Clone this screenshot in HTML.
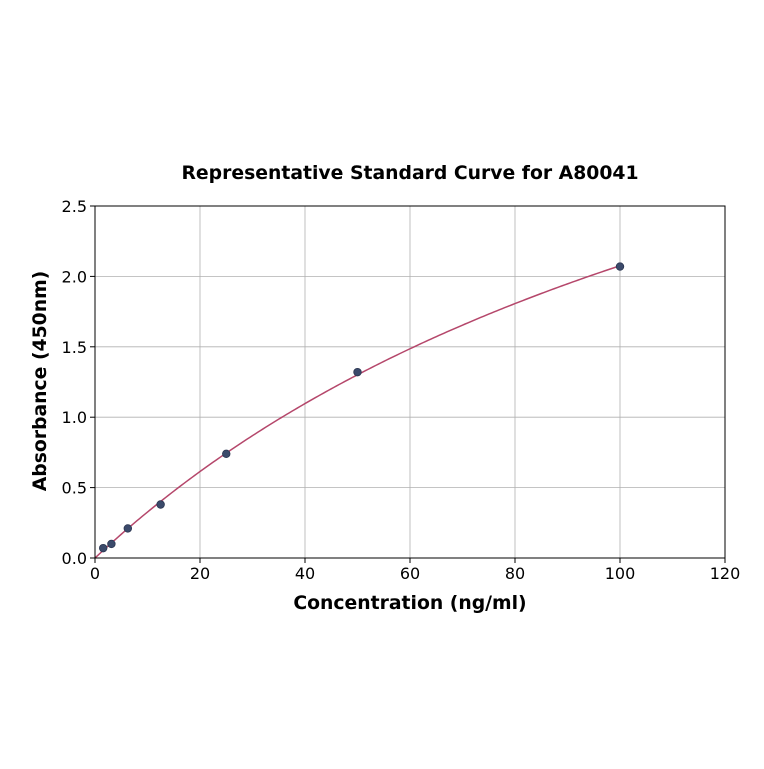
<!DOCTYPE html>
<html><head><meta charset="utf-8"><style>
body{margin:0;background:#fff;}
svg text{font-family:"DejaVu Sans","Liberation Sans",sans-serif;fill:#000;}
</style></head><body>
<svg id="chart" width="764" height="764">
<g id="grid"></g>
<path id="curve" fill="none" stroke="#b5476b" stroke-width="1.5"/>
<g id="pts"></g>
<rect x="95" y="206" width="630" height="352" fill="none" stroke="#000" stroke-width="1"/>
<g id="ticks"></g>
<text x="410" y="179" text-anchor="middle" font-size="18.8" font-weight="bold">Representative Standard Curve for A80041</text>
<text x="410" y="609" text-anchor="middle" font-size="18.8" font-weight="bold">Concentration (ng/ml)</text>
<text transform="translate(46,381) rotate(-90)" text-anchor="middle" font-size="18.8" font-weight="bold">Absorbance (450nm)</text>
</svg>
<script>
const conc=[1.5625,3.125,6.25,12.5,25,50,100];
const absorb=[0.07,0.10,0.21,0.38,0.74,1.32,2.07];
const xTicks=[0,20,40,60,80,100,120];
const yTicks=[0.0,0.5,1.0,1.5,2.0,2.5];
const X0=95,X1=725,Y0=558,Y1=206;
const sx=v=>X0+(v-0)/(120-0)*(X1-X0);
const sy=v=>Y0-(v-0)/(2.5-0)*(Y0-Y1);
const NS="http://www.w3.org/2000/svg";
const grid=document.getElementById('grid'),ticks=document.getElementById('ticks'),pts=document.getElementById('pts');
function mk(tag,attrs,parent){const e=document.createElementNS(NS,tag);for(const k in attrs)e.setAttribute(k,attrs[k]);parent.appendChild(e);return e;}
xTicks.forEach(t=>{
  const gl=mk('line',{x1:sx(t),x2:sx(t),y1:Y1,y2:Y0,stroke:'#b0b0b0','stroke-width':0.8},grid);
  
  
  const tk=mk('line',{x1:sx(t),x2:sx(t),y1:Y0,y2:Y0+5,stroke:'#000'},ticks);
  
  
  const tx=mk('text',{x:sx(t),y:Y0+21,'text-anchor':'middle','font-size':16},ticks);
  tx.textContent=t;
  
  
});
yTicks.forEach(t=>{
  const gl=mk('line',{x1:X0,x2:X1,y1:sy(t),y2:sy(t),stroke:'#b0b0b0','stroke-width':0.8},grid);
  
  
  const tk=mk('line',{x1:X0-5,x2:X0,y1:sy(t),y2:sy(t),stroke:'#000'},ticks);
  
  
  const tx=mk('text',{x:X0-8,y:sy(t)+6,'text-anchor':'end','font-size':16},ticks);
  tx.textContent=t.toFixed(1);
  
  
});
// fit y = V*x/(K+x) by least squares (grid search on K, closed-form V)
let best={err:Infinity,K:1,V:1};
for(let K=1;K<=1000;K+=0.5){
  let num=0,den=0;
  conc.forEach((c,i)=>{const f=c/(K+c);num+=f*absorb[i];den+=f*f;});
  const V=num/den;let err=0;
  conc.forEach((c,i)=>{const r=V*c/(K+c)-absorb[i];err+=r*r;});
  if(err<best.err)best={err,K,V};
}
const xmax=Math.max(...conc);
let d='';
for(let j=0;j<=200;j++){
  const x=xmax*j/200,y=best.V*x/(best.K+x);
  d+=(j?'L':'M')+sx(x).toFixed(2)+','+sy(y).toFixed(2);
}
document.getElementById('curve').setAttribute('d',d);
conc.forEach((c,i)=>{
  const p=mk('circle',{cx:sx(c),cy:sy(absorb[i]),r:3.8,fill:'#3b4a6b',stroke:'#2a3550','stroke-width':0.8},pts);
  
  
});
</script>
</body></html>
